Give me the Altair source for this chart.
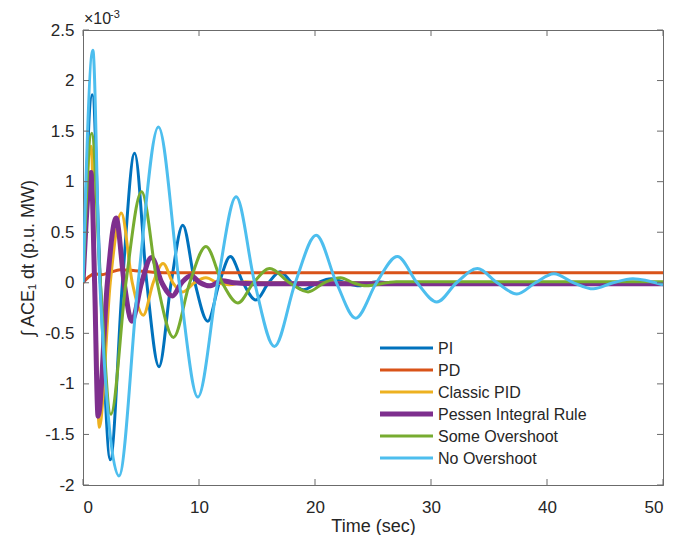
import altair as alt
import pandas as pd

# ---- data (values in units of 1e-3) ----
series_names = ["PI", "PD", "Classic PID", "Pessen Integral Rule", "Some Overshoot", "No Overshoot"]
series_colors = ["#0072BD", "#D95319", "#EDB120", "#7E2F8E", "#77AC30", "#4DBEEE"]
series_widths = [3, 3, 3, 5, 3, 3]

pi_t = [0, 0.8, 1.5, 2.35, 3.4, 4.45, 5.5, 6.55, 7.6, 8.6, 9.65, 10.75, 11.75, 12.7, 13.8, 14.9,
        16.0, 17.0, 18.0, 19.0, 20.2, 21.4, 22.6, 23.8, 25.3, 27.0, 30.0, 35.0, 40.0, 45.0, 50.0]
pi_v = [0, 1.86, 0, -1.75, 0, 1.28, 0, -0.83, 0, 0.57, 0, -0.38, 0, 0.26, 0, -0.17,
        0, 0.11, 0, -0.07, 0, 0.04, 0, -0.03, 0.01, -0.01, 0, -0.01, -0.01, 0, 0]

pd_t = [0, 0.5, 1.0, 1.6, 2.3, 3.2, 4.5, 6.0, 8.0, 50.0]
pd_v = [0, 0.06, 0.09, 0.08, 0.10, 0.13, 0.12, 0.105, 0.10, 0.10]

cpid_t = [0, 0.7, 1.05, 1.4, 2.35, 3.3, 4.25, 5.2, 6.05, 6.9, 7.75, 8.6, 9.6, 10.6, 11.6, 12.6, 14.0, 16.0, 50.0]
cpid_v = [0, 1.35, 0, -1.43, 0, 0.69, 0, -0.32, 0, 0.19, 0, -0.09, 0, 0.05, 0, -0.02, 0.01, 0, 0]

pes_t = [0, 0.7, 1.0, 1.3, 2.1, 2.85, 3.55, 4.2, 5.05, 5.9, 6.8, 7.7, 8.5, 9.3, 10.1, 10.9, 12.0, 13.0, 15.0, 50.0]
pes_v = [0, 1.09, 0, -1.32, 0, 0.64, 0, -0.38, 0, 0.25, 0, -0.13, 0, 0.07, 0, -0.03, 0.02, 0, -0.01, -0.01]

some_t = [0, 0.75, 1.5, 2.4, 3.7, 5.05, 6.4, 7.8, 9.2, 10.6, 12.0, 13.35, 14.7, 16.1, 17.8, 19.4,
          20.8, 22.2, 23.3, 24.4, 27.0, 30.0, 50.0]
some_v = [0, 1.48, 0, -1.30, 0, 0.90, 0, -0.54, 0, 0.36, 0, -0.20, 0, 0.14, 0, -0.09,
          0, 0.05, 0, -0.03, 0.01, 0.01, 0.01]

no_t = [0, 0.85, 1.45, 3.1, 4.75, 6.5, 8.3, 9.9, 11.6, 13.2, 14.8, 16.5, 18.3, 20.1, 21.85, 23.5,
        25.3, 27.1, 28.8, 30.5, 32.2, 34.0, 35.7, 37.4, 39.0, 40.6, 42.3, 44.0, 45.7, 47.4, 50.0]
no_v = [0, 2.30, 0, -1.91, 0, 1.54, 0, -1.13, 0, 0.85, 0, -0.63, 0, 0.47, 0, -0.35,
        0, 0.26, 0, -0.19, 0, 0.14, 0, -0.11, 0, 0.09, 0, -0.06, 0, 0.04, -0.02]

series_t = [pi_t, pd_t, cpid_t, pes_t, some_t, no_t]
series_v = [pi_v, pd_v, cpid_v, pes_v, some_v, no_v]

x_ticks = [0, 10, 20, 30, 40, 50]
y_ticks = [-2, -1.5, -1, -0.5, 0, 0.5, 1, 1.5, 2, 2.5]

W, H = 580, 455
FONT = "Liberation Sans"
TXT = "#262626"
LINE = "#6b6b6b"

xdef = alt.X("t:Q", scale=alt.Scale(domain=[0, 50], nice=False, zero=False),
             axis=alt.Axis(values=x_ticks, ticks=False, grid=False, title="Time (sec)",
                           labelExpr="'' + datum.value", labelPadding=14, titlePadding=2))
ydef = alt.Y("v:Q", scale=alt.Scale(domain=[-2, 2.5], nice=False, zero=False),
             axis=alt.Axis(values=y_ticks, ticks=False, grid=False, title="\u222b ACE\u2081 dt (p.u. MW)",
                           labelExpr="'' + datum.value", labelPadding=9, titlePadding=7))

layers = []
for name, col, w, ts, vs in zip(series_names, series_colors, series_widths, series_t, series_v):
    df = pd.DataFrame({"t": ts, "v": vs, "series": name})
    layers.append(
        alt.Chart(df).mark_line(interpolate="monotone", strokeWidth=w, color=col, clip=True)
        .encode(x=xdef, y=ydef)
    )

# inward tick marks on all four sides
xt = pd.DataFrame({"t": x_ticks})
yt = pd.DataFrame({"v": y_ticks})
tick_style = dict(color=LINE, strokeWidth=1)
layers.append(alt.Chart(xt).mark_rule(**tick_style).encode(x=xdef, y=alt.value(H), y2=alt.value(H - 6)))
layers.append(alt.Chart(xt).mark_rule(**tick_style).encode(x=xdef, y=alt.value(0), y2=alt.value(6)))
layers.append(alt.Chart(yt).mark_rule(**tick_style).encode(y=ydef, x=alt.value(0), x2=alt.value(6)))
layers.append(alt.Chart(yt).mark_rule(**tick_style).encode(y=ydef, x=alt.value(W), x2=alt.value(W - 6)))

# legend (inside plot)
for i, (name, col, w) in enumerate(zip(series_names, series_colors, series_widths)):
    d = alt.Data(values=[{"s": name}])
    yy = 318 + 22 * i
    layers.append(alt.Chart(d).mark_rule(color=col, strokeWidth=w).encode(
        x=alt.value(297), x2=alt.value(350), y=alt.value(yy)))
    layers.append(alt.Chart(d).mark_text(align="left", baseline="middle", font=FONT, fontSize=16,
                                         color=TXT).encode(
        x=alt.value(355), y=alt.value(yy + 1), text="s:N"))

# exponent label
exp_d = alt.Data(values=[{"a": "\u00d710", "b": "-3"}])
layers.append(alt.Chart(exp_d).mark_text(align="left", baseline="alphabetic", font=FONT, fontSize=16,
                                         color=TXT).encode(x=alt.value(1), y=alt.value(-6), text="a:N"))
layers.append(alt.Chart(exp_d).mark_text(align="left", baseline="alphabetic", font=FONT, fontSize=11,
                                         color=TXT).encode(x=alt.value(27), y=alt.value(-12), text="b:N"))

chart = (
    alt.layer(*layers)
    .properties(width=W, height=H, autosize=alt.AutoSizeParams(type="none"),
                padding={"left": 75, "top": 22, "right": 2, "bottom": 50},
                background="white")
    .configure_view(stroke=LINE, strokeWidth=1)
    .configure_axis(domainColor=LINE, labelFont=FONT, titleFont=FONT, labelColor=TXT, titleColor=TXT,
                    labelFontSize=17, titleFontSize=18, titleFontWeight="normal")
)

chart.save("out.html", embed_options={"renderer": "svg", "actions": False})
